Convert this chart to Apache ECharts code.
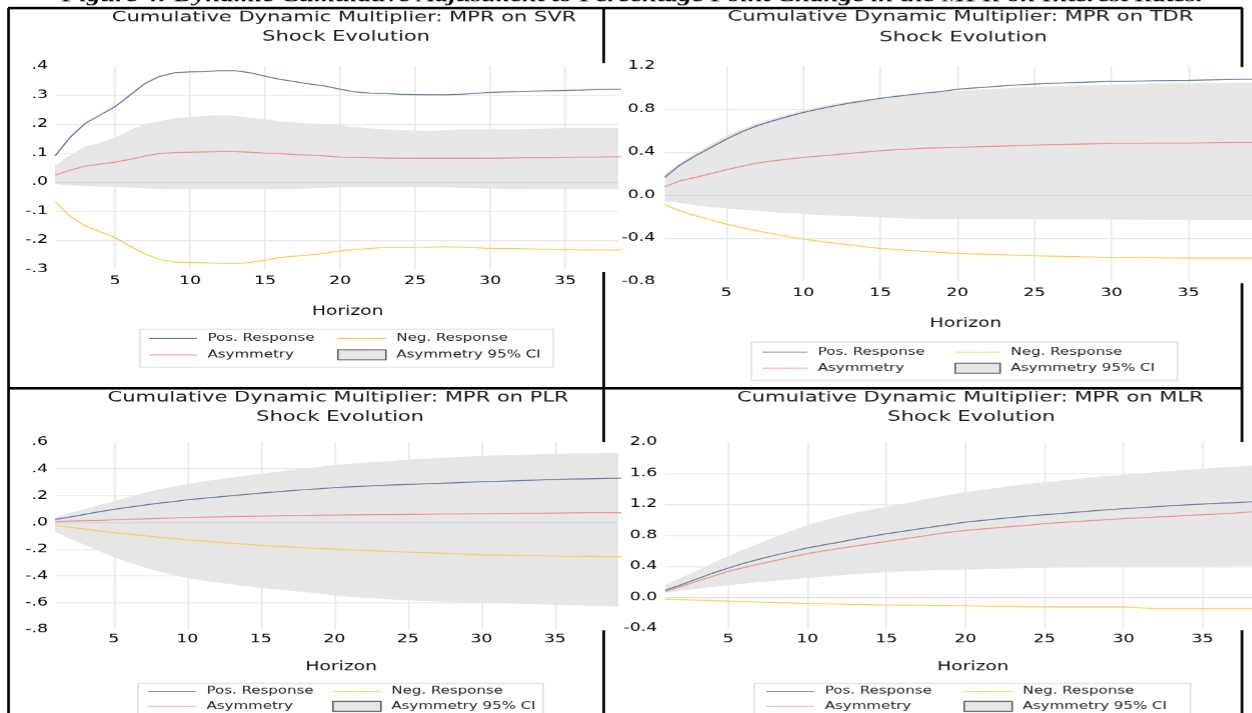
<!DOCTYPE html>
<html>
<head>
<meta charset="utf-8">
<script src="https://cdn.jsdelivr.net/npm/echarts@6/dist/echarts.min.js"></script>
<style>
html,body{margin:0;padding:0;background:#fff;overflow:hidden;}
#main{width:834.6667px;height:713px;transform:scaleX(1.5);transform-origin:0 0;}
</style>
</head>
<body>
<div id="main"></div>
<script>
// ---------------- data ----------------
const horizon = [1,2,3,4,5,6,7,8,9,10,11,12,13,14,15,16,17,18,19,20,21,22,23,24,25,26,27,28,29,30,31,32,33,34,35,36,37,38,39,40];
const xTickLabels = [5,10,15,20,25,30,35];
const legendNames = ['Pos. Response','Neg. Response','Asymmetry','Asymmetry 95% CI'];
const panelTitles = ['Cumulative Dynamic Multiplier: MPR on SVR','Cumulative Dynamic Multiplier: MPR on TDR','Cumulative Dynamic Multiplier: MPR on PLR','Cumulative Dynamic Multiplier: MPR on MLR'];
const subTitle = 'Shock Evolution';
const xAxisName = 'Horizon';
const figureTitle = 'Figure 4: Dynamic Cumulative Adjustment to Percentage Point Change in the MPR on Interest Rates.';

// SVR
const svrPos = [0.090,0.154,0.202,0.231,0.260,0.300,0.340,0.365,0.377,0.380,0.381,0.384,0.384,0.377,0.365,0.354,0.346,0.338,0.331,0.320,0.311,0.307,0.305,0.303,0.302,0.301,0.301,0.303,0.306,0.309,0.311,0.312,0.314,0.315,0.316,0.317,0.319,0.320,0.320,0.320];
const svrNeg = [-0.068,-0.117,-0.151,-0.171,-0.191,-0.221,-0.248,-0.267,-0.276,-0.277,-0.278,-0.280,-0.281,-0.277,-0.269,-0.260,-0.255,-0.251,-0.245,-0.237,-0.233,-0.229,-0.225,-0.225,-0.225,-0.224,-0.223,-0.224,-0.226,-0.229,-0.229,-0.230,-0.231,-0.232,-0.233,-0.234,-0.234,-0.234,-0.234,-0.234];
const svrAsym = [0.024,0.041,0.055,0.062,0.069,0.078,0.090,0.099,0.102,0.103,0.104,0.105,0.105,0.103,0.100,0.098,0.095,0.093,0.090,0.086,0.085,0.084,0.083,0.082,0.082,0.082,0.082,0.082,0.082,0.082,0.083,0.084,0.084,0.084,0.085,0.086,0.086,0.087,0.087,0.087];
const svrCiUpper = [0.056,0.093,0.122,0.136,0.154,0.179,0.200,0.211,0.220,0.225,0.228,0.230,0.229,0.222,0.217,0.209,0.205,0.202,0.200,0.195,0.190,0.185,0.182,0.179,0.178,0.177,0.179,0.182,0.183,0.183,0.183,0.183,0.184,0.185,0.186,0.186,0.187,0.187,0.187,0.187];
const svrCiLower = [-0.007,-0.011,-0.014,-0.015,-0.016,-0.019,-0.022,-0.023,-0.024,-0.024,-0.024,-0.024,-0.024,-0.024,-0.024,-0.023,-0.023,-0.022,-0.020,-0.018,-0.017,-0.016,-0.016,-0.016,-0.016,-0.017,-0.018,-0.020,-0.021,-0.022,-0.023,-0.023,-0.024,-0.024,-0.024,-0.024,-0.024,-0.024,-0.024,-0.024];

// TDR
const tdrPos = [0.164,0.280,0.366,0.443,0.520,0.589,0.645,0.690,0.730,0.769,0.800,0.830,0.856,0.877,0.900,0.918,0.935,0.950,0.965,0.985,0.995,1.005,1.015,1.025,1.033,1.038,1.043,1.048,1.053,1.057,1.059,1.061,1.063,1.065,1.067,1.070,1.073,1.076,1.078,1.079];
const tdrNeg = [-0.090,-0.146,-0.192,-0.232,-0.270,-0.302,-0.332,-0.360,-0.386,-0.410,-0.428,-0.446,-0.462,-0.480,-0.496,-0.506,-0.516,-0.524,-0.534,-0.543,-0.547,-0.551,-0.555,-0.560,-0.564,-0.567,-0.570,-0.574,-0.577,-0.580,-0.581,-0.582,-0.583,-0.584,-0.586,-0.586,-0.586,-0.586,-0.586,-0.586];
const tdrAsym = [0.078,0.133,0.164,0.200,0.236,0.268,0.298,0.318,0.335,0.350,0.363,0.375,0.388,0.400,0.412,0.422,0.430,0.437,0.440,0.443,0.448,0.452,0.456,0.460,0.465,0.468,0.471,0.474,0.477,0.480,0.481,0.482,0.483,0.484,0.484,0.486,0.488,0.490,0.490,0.490];
const tdrCiUpper = [0.200,0.300,0.390,0.475,0.550,0.615,0.670,0.715,0.755,0.790,0.820,0.848,0.870,0.890,0.910,0.925,0.938,0.950,0.960,0.970,0.978,0.986,0.993,1.000,1.005,1.010,1.014,1.018,1.022,1.026,1.030,1.033,1.036,1.038,1.040,1.042,1.044,1.046,1.047,1.048];
const tdrCiLower = [-0.053,-0.075,-0.093,-0.110,-0.124,-0.136,-0.146,-0.158,-0.168,-0.177,-0.184,-0.190,-0.196,-0.202,-0.208,-0.213,-0.218,-0.221,-0.222,-0.222,-0.223,-0.223,-0.224,-0.224,-0.225,-0.226,-0.226,-0.227,-0.227,-0.228,-0.228,-0.229,-0.229,-0.230,-0.230,-0.231,-0.231,-0.232,-0.232,-0.232];

// PLR
const plrPos = [0.022,0.040,0.060,0.080,0.097,0.113,0.128,0.143,0.155,0.170,0.180,0.190,0.200,0.210,0.220,0.228,0.237,0.245,0.252,0.260,0.265,0.270,0.275,0.280,0.284,0.288,0.292,0.296,0.300,0.304,0.307,0.311,0.314,0.318,0.322,0.324,0.326,0.328,0.330,0.331];
const plrNeg = [-0.022,-0.036,-0.050,-0.064,-0.077,-0.088,-0.099,-0.110,-0.120,-0.130,-0.139,-0.148,-0.156,-0.164,-0.172,-0.178,-0.184,-0.190,-0.195,-0.200,-0.205,-0.209,-0.213,-0.218,-0.222,-0.226,-0.230,-0.234,-0.238,-0.242,-0.244,-0.246,-0.248,-0.250,-0.252,-0.253,-0.254,-0.256,-0.257,-0.258];
const plrAsym = [0.007,0.010,0.012,0.015,0.020,0.023,0.026,0.030,0.033,0.037,0.039,0.041,0.043,0.045,0.047,0.049,0.051,0.052,0.054,0.055,0.056,0.057,0.058,0.059,0.060,0.061,0.062,0.063,0.064,0.065,0.066,0.067,0.068,0.069,0.070,0.071,0.072,0.072,0.072,0.072];
const plrCiUpper = [0.040,0.070,0.100,0.130,0.160,0.190,0.220,0.245,0.267,0.287,0.305,0.320,0.335,0.350,0.364,0.378,0.390,0.403,0.415,0.430,0.438,0.446,0.454,0.462,0.470,0.476,0.482,0.488,0.493,0.497,0.501,0.504,0.507,0.510,0.514,0.516,0.518,0.519,0.520,0.521];
const plrCiLower = [-0.072,-0.120,-0.167,-0.215,-0.260,-0.300,-0.334,-0.365,-0.392,-0.417,-0.433,-0.448,-0.463,-0.477,-0.490,-0.501,-0.512,-0.522,-0.532,-0.546,-0.555,-0.563,-0.571,-0.578,-0.584,-0.588,-0.592,-0.595,-0.598,-0.600,-0.604,-0.607,-0.610,-0.614,-0.617,-0.620,-0.623,-0.626,-0.630,-0.632];

// MLR
const mlrPos = [0.090,0.160,0.235,0.310,0.378,0.440,0.495,0.545,0.590,0.636,0.675,0.710,0.750,0.785,0.820,0.850,0.880,0.910,0.940,0.970,0.990,1.010,1.030,1.050,1.065,1.080,1.097,1.113,1.128,1.143,1.155,1.167,1.180,1.192,1.203,1.212,1.220,1.230,1.240,1.248];
const mlrNeg = [-0.026,-0.030,-0.036,-0.043,-0.050,-0.056,-0.062,-0.068,-0.074,-0.080,-0.084,-0.088,-0.092,-0.096,-0.100,-0.102,-0.104,-0.106,-0.108,-0.110,-0.113,-0.116,-0.119,-0.122,-0.125,-0.125,-0.125,-0.125,-0.125,-0.125,-0.135,-0.146,-0.146,-0.146,-0.146,-0.146,-0.146,-0.146,-0.146,-0.146];
const mlrAsym = [0.070,0.140,0.205,0.270,0.335,0.385,0.430,0.475,0.520,0.563,0.597,0.630,0.660,0.690,0.720,0.750,0.780,0.810,0.838,0.863,0.880,0.897,0.913,0.930,0.950,0.963,0.976,0.989,1.002,1.014,1.024,1.034,1.044,1.055,1.065,1.075,1.087,1.100,1.110,1.118];
const mlrCiUpper = [0.163,0.250,0.340,0.440,0.530,0.620,0.700,0.780,0.855,0.930,0.990,1.040,1.090,1.130,1.165,1.205,1.245,1.285,1.322,1.357,1.385,1.410,1.440,1.465,1.486,1.505,1.525,1.545,1.563,1.580,1.596,1.612,1.628,1.643,1.658,1.670,1.685,1.700,1.710,1.720];
const mlrCiLower = [0.060,0.085,0.110,0.133,0.155,0.177,0.198,0.215,0.233,0.250,0.266,0.282,0.298,0.312,0.326,0.334,0.342,0.349,0.353,0.357,0.362,0.367,0.371,0.376,0.380,0.384,0.388,0.392,0.396,0.400,0.401,0.402,0.403,0.404,0.404,0.405,0.406,0.408,0.409,0.410];

// ---------------- layout (reference pixel coords, x later divided by stretch) ----------------
const K = 1.5;               // horizontal stretch of the reference picture
const X = v => v / K;
const FONT = 'DejaVu Sans';
const C_POS = '#64749a', C_NEG = '#f8cc50', C_ASY = '#f28a8a', C_BAND = '#e6e6e6', C_GRID = '#e8e8e8';
const LINE_ICON = 'path://M0,0L48,0L48,1.2L0,1.2Z';

const shortFmt = v => { if (Math.abs(v) < 1e-9) return '.0'; return v.toFixed(1).replace(/^(-?)0\./, '$1.'); };
const longFmt = v => { if (Math.abs(v) < 1e-9) return '0.0'; return v.toFixed(1); };

const panels = [
  {t1:[344,18], t2:[346,37], g:[55,618,66,269], xMax:38.53, y:[-0.3,0.4,0.1], fmt:shortFmt, yM:4.7, xM:6, nGap:36, nPad:14.7,
   pos:svrPos, neg:svrNeg, asy:svrAsym, up:svrCiUpper, lo:svrCiLower,
   leg:{l:149, r:337, top:332.3, gap:4.4, iw:32}, box:[140,329,553,367]},
  {t1:[960,17], t2:[963,38], g:[664.4,1252,66,281], xMax:39.16, y:[-0.8,1.2,0.4], fmt:longFmt, yM:6.3, xM:6, nGap:36, nPad:9.3,
   pos:tdrPos, neg:tdrNeg, asy:tdrAsym, up:tdrCiUpper, lo:tdrCiLower,
   leg:{l:762, r:954, top:346, gap:4, iw:30}, box:[751,342,1177,380]},
  {t1:[338,398], t2:[340,417], g:[55,618,442,629], xMax:39.3, y:[-0.8,0.6,0.2], fmt:shortFmt, yM:4.7, xM:4, nGap:31, nPad:6,
   pos:plrPos, neg:plrNeg, asy:plrAsym, up:plrCiUpper, lo:plrCiLower,
   leg:{l:148, r:332, top:685, gap:3, iw:32}, box:[138,683,543,725]},
  {t1:[970,398], t2:[971,417], g:[664.8,1252,442,628], xMax:38.16, y:[-0.4,2.0,0.4], fmt:longFmt, yM:5.2, xM:5, nGap:32, nPad:18.8,
   pos:mlrPos, neg:mlrNeg, asy:mlrAsym, up:mlrCiUpper, lo:mlrCiLower,
   leg:{l:766, r:963, top:685, gap:3, iw:32}, box:[754,683,1190,725]}
];

const grid = [], xAxis = [], yAxis = [], series = [], legend = [], graphic = [];
const pts = arr => horizon.map((h, k) => [h, arr[k]]);

function bandRender(params, api) {
  if (params.dataIndexInside !== 0) return null;
  const n = params.dataInsideLength;
  const top = [], bot = [];
  for (let k = 0; k < n; k++) {
    const h = api.value(0, k);
    top.push(api.coord([h, api.value(1, k)]));
    bot.push(api.coord([h, api.value(2, k)]));
  }
  const cs = params.coordSys;
  return {
    type:'group',
    clipPath:{type:'rect', shape:{x:cs.x, y:cs.y, width:cs.width, height:cs.height}},
    children:[{type:'polygon', shape:{points: top.concat(bot.reverse())}, style:{fill:C_BAND, stroke:null}}]
  };
}

panels.forEach((p, i) => {
  grid.push({left:X(p.g[0]), width:X(p.g[1]-p.g[0]), top:p.g[2], height:p.g[3]-p.g[2], containLabel:false});
  xAxis.push({
    gridIndex:i, type:'value', min:1, max:p.xMax,
    name:xAxisName, nameLocation:'middle', nameGap:p.nGap,
    nameTextStyle:{fontFamily:FONT, fontSize:12.5, color:'#111', padding:[0,0,0,p.nPad]},
    axisLine:{show:false}, axisTick:{show:false, customValues:xTickLabels},
    axisLabel:{customValues:xTickLabels, fontFamily:FONT, fontSize:11.5, color:'#000', margin:p.xM},
    splitLine:{show:true, lineStyle:{color:C_GRID, width:1}}
  });
  yAxis.push({
    gridIndex:i, type:'value', min:p.y[0], max:p.y[1], interval:p.y[2],
    axisLine:{show:false}, axisTick:{show:false},
    axisLabel:{formatter:p.fmt, fontFamily:FONT, fontSize:11.5, color:'#000', margin:p.yM},
    splitLine:{show:true, showMinLine:false, showMaxLine:false, lineStyle:{color:C_GRID, width:1}}
  });
  series.push({
    type:'custom', name:legendNames[3], xAxisIndex:i, yAxisIndex:i, clip:true, silent:true, z:1,
    data: horizon.map((h, k) => [h, p.up[k], p.lo[k]]),
    encode:{x:0, y:[1,2]}, itemStyle:{color:C_BAND},
    renderItem: bandRender
  });
  const common = {type:'line', xAxisIndex:i, yAxisIndex:i, symbol:'none', showSymbol:false, clip:true, silent:true};
  series.push(Object.assign({}, common, {name:legendNames[0], data:pts(p.pos), lineStyle:{color:C_POS, width:1}, itemStyle:{color:C_POS}, z:3}));
  series.push(Object.assign({}, common, {name:legendNames[1], data:pts(p.neg), lineStyle:{color:C_NEG, width:1}, itemStyle:{color:C_NEG}, z:3,
    markLine:{silent:true, symbol:'none', label:{show:false}, animation:false,
      lineStyle:{color:'#d5d5d5', type:'solid', width:1}, data:[{yAxis:0}]}}));
  series.push(Object.assign({}, common, {name:legendNames[2], data:pts(p.asy), lineStyle:{color:C_ASY, width:1}, itemStyle:{color:C_ASY}, z:3}));

  const legBase = {orient:'vertical', top:p.leg.top, itemGap:p.leg.gap, itemWidth:p.leg.iw, itemHeight:10, padding:0,
    selectedMode:false, textStyle:{fontFamily:FONT, fontSize:10, color:'#222', lineHeight:12, padding:[0,0,0,2]}};
  legend.push(Object.assign({}, legBase, {left:X(p.leg.l), data:[
    {name:legendNames[0], icon:LINE_ICON, itemStyle:{color:C_POS}},
    {name:legendNames[2], icon:LINE_ICON, itemStyle:{color:C_ASY}}]}));
  legend.push(Object.assign({}, legBase, {left:X(p.leg.r), data:[
    {name:legendNames[1], icon:LINE_ICON, itemStyle:{color:C_NEG}},
    {name:legendNames[3], icon:'rect', itemStyle:{color:C_BAND, borderColor:'#555', borderWidth:1}}]}));

  graphic.push({type:'rect', silent:true, z:10, shape:{x:X(p.box[0]), y:p.box[1], width:X(p.box[2]-p.box[0]), height:p.box[3]-p.box[1]},
    style:{fill:'none', stroke:'#dddddd', lineWidth:1}});
  [[panelTitles[i], p.t1], [subTitle, p.t2]].forEach(([txt, pos]) => {
    graphic.push({type:'text', silent:true, z:10, x:X(pos[0]), y:pos[1],
      style:{text:txt, fontFamily:FONT, fontSize:14, fill:'#1a1a1a', textAlign:'center', textVerticalAlign:'middle', align:'center', verticalAlign:'middle'}});
  });
});

// frame lines (reference coords)
const hLines = [[8,1242,8],[8,1242,388]];
const vLines = [[8.5,8,713],[603.5,8,63],[603.5,272,442],[603.5,630,713],[1241.5,8,67],[1241.5,283,442],[1241.5,630,713]];
hLines.forEach(([x1,x2,y]) => graphic.push({type:'line', silent:true, z:20, shape:{x1:X(x1), y1:y, x2:X(x2), y2:y}, style:{stroke:'#000', lineWidth:2.7}}));
vLines.forEach(([x,y1,y2]) => graphic.push({type:'line', silent:true, z:20, shape:{x1:X(x), y1:y1, x2:X(x), y2:y2}, style:{stroke:'#000', lineWidth:1.8}}));

// partially visible document caption at the very top
graphic.push({type:'text', silent:true, z:20, x:X(632), y:-3,
  style:{text:figureTitle, fontFamily:'Liberation Serif', fontSize:18, fontWeight:'bold', fontStyle:'italic', fill:'#000',
         textAlign:'center', textVerticalAlign:'middle', align:'center', verticalAlign:'middle'}});

const chart = echarts.init(document.getElementById('main'), null, {renderer:'canvas', devicePixelRatio:1.5});
chart.setOption({animation:false, backgroundColor:'#fff', grid, xAxis, yAxis, series, legend, graphic});
</script>
</body>
</html>
